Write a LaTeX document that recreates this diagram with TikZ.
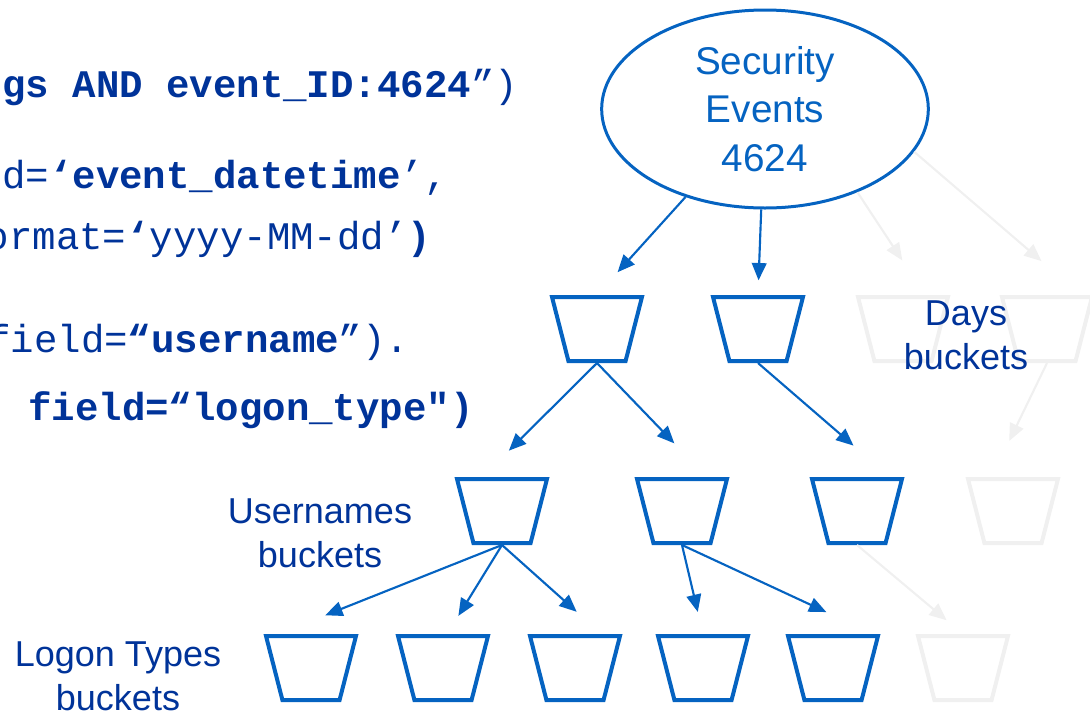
\documentclass[tikz,border=0pt]{standalone}
\usepackage{fontspec}
\setmainfont{Liberation Sans}
\newfontfamily\codefont{Liberation Mono}
\usetikzlibrary{arrows.meta,shapes.geometric}

\definecolor{lineblue}{RGB}{5,99,193}
\definecolor{textnavy}{RGB}{0,51,153}
\definecolor{ghost}{RGB}{240,240,240}

\begin{document}
\begin{tikzpicture}[
    x=0.75pt, y=-0.75pt,
    arrowtip/.style={
      color=lineblue, line width=1.6pt,
      -{Triangle[length=13pt,width=11pt]}
    },
    faded/.style={color=ghost},
    bucket/.style={trapezium,trapezium left angle=74,trapezium right angle=74,
      shape border rotate=180,trapezium stretches=true,
      minimum width=67.5pt,minimum height=48pt,inner sep=2pt,
      draw=lineblue,line width=3pt},
    fadedbucket/.style={bucket,draw=ghost},
    codeline/.style={anchor=base west,inner sep=0pt,text=textnavy,
      font=\codefont\fontsize{29.3}{35}\selectfont},
    levelname/.style={align=center,inner sep=0pt,text=textnavy,
      font=\fontsize{27}{33}\selectfont}
  ]
    \useasboundingbox (0,0) rectangle (1090,715);
    \clip (0,0) rectangle (1090,715);

    % query code
    \node[codeline] (CodeA) at (2,97) {{\bfseries gs AND event\_ID:4624}”)};
    \node[codeline] (CodeB) at (2,188) {d={\bfseries ‘event\_datetime}’,};
    \node[codeline] (CodeC) at (-14.5,249) {ormat={\bfseries ‘}yyyy-MM-dd’{\bfseries )}};
    \node[codeline] (CodeD) at (-13,352) {field={\bfseries “username}”).};
    \node[codeline] (CodeE) at (28,420) {\bfseries field=“logon\_type")};

    \node[ellipse,draw=lineblue,line width=2.25pt,minimum width=245pt,
      minimum height=148.5pt,inner sep=0pt,align=center,text=lineblue,
      font=\fontsize{29}{36.4}\selectfont] (Events) at (765,109) {Security\\Events\\4624};

    % days
    \node[bucket] (DayA) at (597,329) {};
    \node[bucket] (DayB) at (758,329) {};
    \node[fadedbucket] (DayC) at (903,329) {};
    \node[fadedbucket] (DayD) at (1047,329) {};

    % usernames
    \node[bucket] (UserA) at (502,511) {};
    \node[bucket] (UserB) at (682,511) {};
    \node[bucket] (UserC) at (857,511) {};
    \node[fadedbucket] (UserD) at (1013,511) {};

    % logon types
    \node[bucket] (LogonA) at (311,668) {};
    \node[bucket] (LogonB) at (443,668) {};
    \node[bucket] (LogonC) at (575,668) {};
    \node[bucket] (LogonD) at (703,668) {};
    \node[bucket] (LogonE) at (833,668) {};
    \node[fadedbucket] (LogonF) at (963,668) {};

    \draw[arrowtip,shorten >=23pt] (Events) -- (DayA.90);
    \draw[arrowtip,shorten >=11pt] (Events) -- (DayB.90);
    \draw[arrowtip,faded,shorten >=31pt] (Events.-42) -- (DayC.57);
    \draw[arrowtip,faded,shorten >=39pt] (Events.-16) -- (DayD.45);

    \draw[arrowtip,shorten >=28pt] (DayA.-90) -- (UserA.120);
    \draw[arrowtip,shorten >=35pt] (DayA.-90) -- (UserB.54);
    \draw[arrowtip,shorten >=36pt] (DayB.-90) -- (UserC.46);
    \draw[arrowtip,faded,shorten >=30pt] (DayD.-90) -- (UserD.122);

    \draw[arrowtip,shorten >=38pt] (UserA.-90) -- (LogonA.134);
    \draw[arrowtip,shorten >=16pt] (UserA.-90) -- (LogonB.83);
    \draw[arrowtip,shorten >=25pt] (UserA.-90) -- (LogonC.52);
    \draw[arrowtip,shorten >=17pt] (UserB.-90) -- (LogonD.90);
    \draw[arrowtip,shorten >=39pt] (UserB.-90) -- (LogonE.40);
    \draw[arrowtip,faded,shorten >=16pt] (UserC.-90) -- (LogonF.90);

    \node[levelname] (DaysName) at (966,335) {Days\\buckets};
    \node[levelname] (UserName) at (320,533) {Usernames\\buckets};
    \node[levelname] (LogonName) at (118,676) {Logon Types\\buckets};
\end{tikzpicture}
\end{document}
